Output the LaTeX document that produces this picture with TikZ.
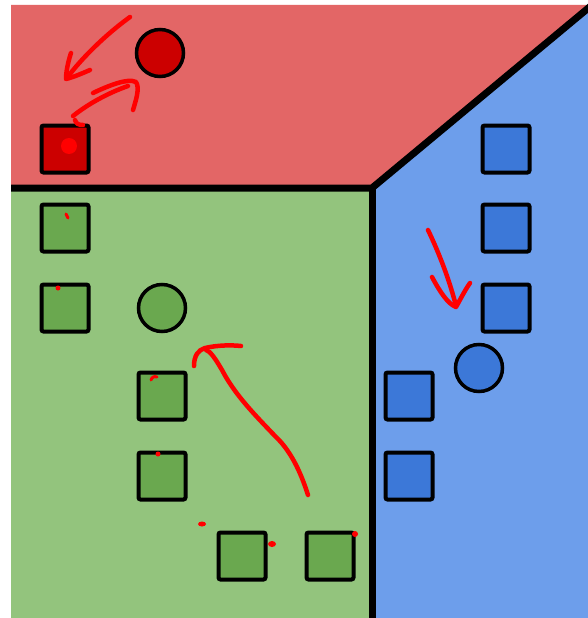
\documentclass[tikz,border=0pt]{standalone}
\definecolor{redbg}{HTML}{E36666}
\definecolor{greenbg}{HTML}{93C47D}
\definecolor{bluebg}{HTML}{6D9EEB}
\definecolor{redfill}{HTML}{CC0000}
\definecolor{greenfill}{HTML}{6AA84F}
\definecolor{bluefill}{HTML}{3C78D8}
\definecolor{ink}{HTML}{FF0000}
\tikzset{
  sq/.style={draw=black, line width=4pt, rounded corners=2pt, minimum size=47pt, inner sep=0pt},
  circ/.style={circle, draw=black, line width=3.5pt, minimum size=47pt, inner sep=0pt},
  border/.style={line width=7pt, line cap=butt, line join=miter},
  pen/.style={draw=ink, line width=4.5pt, line cap=round, line join=round},
}
\begin{document}
\begin{tikzpicture}[x=1pt, y=-1pt]
\useasboundingbox (0,0) rectangle (588,618);
\fill[white] (0,0) rectangle (588,618);
% regions
\fill[redbg] (11,5) -- (588,5) -- (588,8) -- (372,188) -- (11,188) -- cycle;
\fill[greenbg] (11,188) -- (372,188) -- (372,618) -- (11,618) -- cycle;
\fill[bluebg] (372,188) -- (588,8) -- (588,618) -- (372,618) -- cycle;
\coordinate (bl) at (11,188);
\coordinate (mid) at (372,188);
\coordinate (tr) at (592,5);
\coordinate (bot) at (372,620);
\draw[border] (bl) -- (mid) -- (tr);
\draw[border] (mid) -- (bot);
% red objects
\node[sq, fill=redfill] (r1) at (65,149) {};
\node[circ, fill=redfill] (rc) at (160,53) {};
% green objects
\node[sq, fill=greenfill] (g1) at (65,228) {};
\node[sq, fill=greenfill] (g2) at (65,308) {};
\node[circ, fill=greenfill] (gc) at (162,308) {};
\node[sq, fill=greenfill] (g3) at (162,396) {};
\node[sq, fill=greenfill] (g4) at (162,476) {};
\node[sq, fill=greenfill] (g5) at (242,556) {};
\node[sq, fill=greenfill] (g6) at (330,556) {};
% blue objects
\node[sq, fill=bluefill] (b1) at (506,149) {};
\node[sq, fill=bluefill] (b2) at (506,228) {};
\node[sq, fill=bluefill] (b3) at (506,308) {};
\node[circ, fill=bluefill] (bc) at (479,368) {};
\node[sq, fill=bluefill] (b4) at (409,396) {};
\node[sq, fill=bluefill] (b5) at (409,476) {};
% hand-drawn red annotations
\draw[pen] (130,17) .. controls (105,35) and (80,60) .. (67,78);
\draw[pen] (71,53) .. controls (68,62) and (66,72) .. (66,79) .. controls (74,77) and (83,73) .. (90,70);
\draw[pen] (73,116) .. controls (88,104) and (108,93) .. (128,86);
\draw[pen] (93,93) .. controls (110,85) and (128,78) .. (136,82) .. controls (140,88) and (136,100) .. (133,110);
\draw[pen] (75,120) .. controls (76,124) and (79,125) .. (83,125);
\fill[ink] (69,146) ellipse [x radius=8pt, y radius=8pt];
\draw[pen] (308,495) .. controls (300,470) and (290,450) .. (275,436) .. controls (255,415) and (235,395) .. (222,370) .. controls (215,358) and (210,351) .. (206,350);
\draw[pen] (194,366) .. controls (194,356) and (198,350) .. (205,348) .. controls (218,345) and (232,345) .. (241,346);
\draw[pen] (428,230) .. controls (440,255) and (450,282) .. (456,306);
\draw[pen] (432,277) .. controls (440,292) and (448,304) .. (456,307) .. controls (460,300) and (465,290) .. (470,283);
% dots
\draw[pen, line width=3pt] (66,214) -- (68,218);
\fill[ink] (58,288) circle (2.5pt);
\draw[pen, line width=3pt] (151,380) .. controls (152,377) and (154,376) .. (157,377);
\fill[ink] (158,454) circle (2.5pt);
\fill[ink] (202,524) ellipse [x radius=4pt, y radius=2.5pt];
\fill[ink] (272,544) ellipse [x radius=4pt, y radius=3pt];
\fill[ink] (355,534) circle (3pt);
\end{tikzpicture}
\end{document}
